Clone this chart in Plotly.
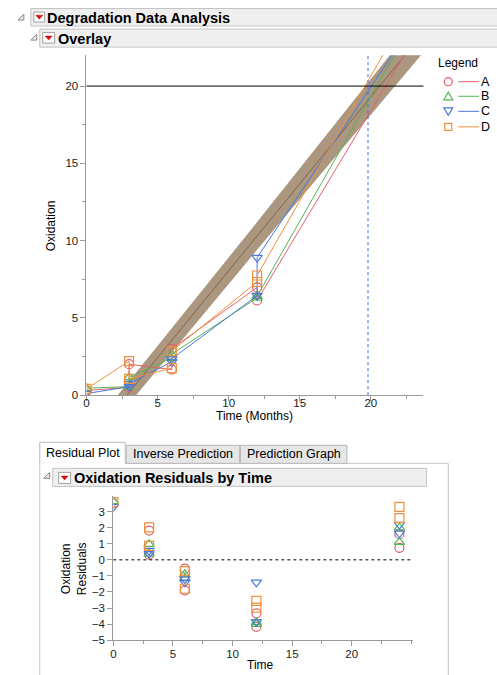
import plotly.graph_objects as go

W, H = 497, 675
# the captured picture comes out about 8px shorter than the page, so vertical
# positions are stretched slightly to land where the reference has them
K = 683 / 675

# ---------------- data ----------------
batches = ["A", "B", "C", "D"]
colors = {"A": "#E2606C", "B": "#55B455", "C": "#4A78E0", "D": "#F0903A"}
symbols = {"A": "circle-open", "B": "triangle-up-open", "C": "triangle-down-open", "D": "square-open"}

time_A = [0, 3, 3, 6, 6, 12, 12, 24, 24]
oxid_A = [0.30, 0.50, 2.00, 1.65, 3.00, 6.97, 6.13, 24.55, 25.40]
time_B = [0, 3, 3, 6, 6, 12, 12, 24, 24]
oxid_B = [0.45, 0.55, 1.15, 2.40, 2.65, 6.30, 6.40, 25.80, 24.90]
time_C = [0, 3, 3, 6, 6, 12, 12, 24, 24]
oxid_C = [0.10, 0.55, 0.75, 2.15, 2.35, 6.44, 8.90, 25.45, 26.00]
time_D = [0, 3, 3, 6, 6, 12, 12, 24, 24]
oxid_D = [0.40, 2.20, 1.05, 1.75, 2.85, 7.32, 7.74, 27.10, 26.40]

times = {"A": time_A, "B": time_B, "C": time_C, "D": time_D}
oxid = {"A": oxid_A, "B": oxid_B, "C": oxid_C, "D": oxid_D}

fit_intercept = -3.2
fit_slope = 1.125
band_time = [0, 3, 12, 21, 26]
band_halfwidth = [0.75, 0.72, 0.9, 1.2, 1.35]
spec_limit = 20
crossing_time = 19.8

x_ticks_top = [0, 5, 10, 15, 20]
y_ticks_top = [0, 5, 10, 15, 20]
x_ticks_res = [0, 5, 10, 15, 20]
y_ticks_res = [-5, -4, -3, -2, -1, 0, 1, 2, 3]

FONT = "Liberation Sans, Arial, sans-serif"


def px(x):
    return x / W


def py(y):
    return 1 - y * K / H


fig = go.Figure()

# confidence band
fitted = [fit_intercept + fit_slope * t for t in band_time]
upper = [f + h for f, h in zip(fitted, band_halfwidth)]
lower = [f - h for f, h in zip(fitted, band_halfwidth)]
fig.add_trace(go.Scatter(x=band_time + band_time[::-1], y=upper + lower[::-1],
                         fill="toself", fillcolor="rgba(150,125,95,0.80)",
                         line=dict(width=0), mode="lines", hoverinfo="skip",
                         xaxis="x", yaxis="y"))
fig.add_trace(go.Scatter(x=band_time, y=fitted, mode="lines",
                         line=dict(color="rgb(128,100,72)", width=1),
                         xaxis="x", yaxis="y"))

# overlay lines + markers
for b in batches:
    fig.add_trace(go.Scatter(x=times[b], y=oxid[b], mode="lines+markers",
                             line=dict(color=colors[b], width=1),
                             marker=dict(symbol=symbols[b], size=9, color=colors[b],
                                         line=dict(width=1.2, color=colors[b])),
                             xaxis="x", yaxis="y", name=b))

# residuals
for b in batches:
    res = [y - (fit_intercept + fit_slope * t) for t, y in zip(times[b], oxid[b])]
    fig.add_trace(go.Scatter(x=times[b], y=res, mode="markers",
                             marker=dict(symbol=symbols[b], size=9, color=colors[b],
                                         line=dict(width=1.2, color=colors[b])),
                             xaxis="x2", yaxis="y2", name=b))

axis_common = dict(showgrid=False, zeroline=False, showline=True, linecolor="#9A9A9A",
                   linewidth=1, ticks="outside", ticklen=5, tickcolor="#9A9A9A",
                   tickfont=dict(family=FONT, size=11.5, color="#222"))
minor = dict(dtick=2.5, ticklen=3, ticks="outside", tickcolor="#9A9A9A")

fig.update_layout(
    width=W, height=H, margin=dict(l=0, r=0, t=0, b=0),
    paper_bgcolor="white", plot_bgcolor="white", showlegend=False,
    xaxis=dict(domain=[px(84), px(423)], range=[0, 23.7], tickvals=x_ticks_top,
               minor=minor, anchor="y", ticklabelstandoff=-8, **axis_common),
    yaxis=dict(domain=[py(394), py(55)], range=[0, 22], tickvals=y_ticks_top,
               minor=minor, anchor="x", **axis_common),
    xaxis2=dict(domain=[px(111), px(412)], range=[0, 25.1], tickvals=x_ticks_res,
                minor=minor, anchor="y2", ticklabelstandoff=-2, **axis_common),
    yaxis2=dict(domain=[py(638.3), py(495)], range=[-5, 3.95], tickvals=y_ticks_res,
                anchor="x2", **axis_common),
)

shapes = []
ann = []

# reference lines
shapes.append(dict(type="line", xref="x domain", yref="y", x0=0, x1=1, y0=spec_limit, y1=spec_limit,
                   line=dict(color="black", width=1)))
shapes.append(dict(type="line", xref="x", yref="y domain", x0=crossing_time, x1=crossing_time, y0=0, y1=1,
                   line=dict(color="#3A6BE8", width=1, dash="dot")))
shapes.append(dict(type="line", xref="x2 domain", yref="y2", x0=0, x1=1, y0=0, y1=0,
                   line=dict(color="black", width=1, dash="dot")))


def rect(x0, y0, x1, y1, fill, line="#C4C4C4", lw=1):
    shapes.append(dict(type="rect", xref="paper", yref="paper", x0=px(x0), x1=px(x1),
                       y0=py(y1), y1=py(y0), fillcolor=fill, line=dict(color=line, width=lw),
                       layer="below"))


def path(pts, fill, line, lw=1):
    d = "M " + " L ".join(f"{px(x):.5f},{py(y):.5f}" for x, y in pts) + " Z"
    shapes.append(dict(type="path", xref="paper", yref="paper", path=d, fillcolor=fill,
                       line=dict(color=line, width=lw)))


def text(x, y, s, size=12, anchor="left", bold=False, angle=0):
    ann.append(dict(xref="paper", yref="paper", x=px(x), y=py(y), text=(f"<b>{s}</b>" if bold else s),
                    showarrow=False, xanchor=anchor, yanchor="middle", textangle=angle,
                    font=dict(family=FONT, size=size, color="black")))


def disclosure(x, y):
    path([(x, y + 6), (x + 6, y + 6), (x + 6, y)], "#E8E8E8", "#8A8A8A", 1)


def red_icon(x0, y0, x1, y1):
    rect(x0, y0, x1, y1, "white", "#A0A0A0", 1)
    cx = (x0 + x1) / 2
    cy = (y0 + y1) / 2
    path([(cx - 3.5, cy - 1.8), (cx + 3.5, cy - 1.8), (cx, cy + 2.2)], "#D01010", "#D01010", 0.5)


# header bars
rect(28, 8.5, 499, 26, "#EFEFEF")
disclosure(15, 14)
red_icon(31, 12, 42, 22)
text(42, 17.5, "Degradation Data Analysis", size=14.5, bold=True)

rect(37, 29, 499, 47, "#EFEFEF")
disclosure(28, 34)
red_icon(40, 32.5, 52, 43)
text(53, 38.5, "Overlay", size=14.5, bold=True)

# tabs and panel
rect(37, 462, 448, 700, "rgba(0,0,0,0)", "#C4C4C4")
rect(124, 444, 238, 462, "#E6E6E6", "#B8B8B8")
rect(239, 444, 346, 462, "#E6E6E6", "#B8B8B8")
rect(37, 441, 123, 462, "white", "#B8B8B8")
shapes.append(dict(type="line", xref="paper", yref="paper", x0=px(37.5), x1=px(122.5), y0=py(462), y1=py(462),
                   line=dict(color="white", width=2)))
text(80, 452, "Residual Plot", size=12.5, anchor="center")
text(181, 453, "Inverse Prediction", size=12.5, anchor="center")
text(292.5, 453, "Prediction Graph", size=12.5, anchor="center")

rect(50, 467, 426, 485, "#EFEFEF")
disclosure(41, 471)
red_icon(56, 471, 68, 482)
text(69, 476.5, "Oxidation Residuals by Time", size=14.5, bold=True)

# axis titles
text(48, 225, "Oxidation", size=12, anchor="center", angle=-90)
text(253, 414.5, "Time (Months)", size=12, anchor="center")
text(71, 567, "Oxidation<br>Residuals", size=12, anchor="center", angle=-90)
text(259, 663.5, "Time", size=12, anchor="center")

# legend
text(436, 63, "Legend", size=12)
rows = {"A": 81.5, "B": 96, "C": 111, "D": 126.5}
for b in batches:
    yy = rows[b]
    c = colors[b]
    if b == "A":
        shapes.append(dict(type="circle", xref="paper", yref="paper", x0=px(444), x1=px(452),
                           y0=py(yy + 4), y1=py(yy - 4), line=dict(color=c, width=1.2)))
    elif b == "B":
        path([(443.5, yy + 3.5), (452.5, yy + 3.5), (448, yy - 4)], "rgba(0,0,0,0)", c, 1.2)
    elif b == "C":
        path([(443.5, yy - 3.5), (452.5, yy - 3.5), (448, yy + 4)], "rgba(0,0,0,0)", c, 1.2)
    else:
        shapes.append(dict(type="rect", xref="paper", yref="paper", x0=px(444.5), x1=px(451.5),
                           y0=py(yy + 3.5), y1=py(yy - 3.5), line=dict(color=c, width=1.2)))
    shapes.append(dict(type="line", xref="paper", yref="paper", x0=px(458), x1=px(479),
                       y0=py(yy), y1=py(yy), line=dict(color=c, width=1)))
    text(479, yy, b, size=12.5)

fig.update_layout(shapes=shapes, annotations=ann)
fig.write_html(
    "out.html",
    config={"displayModeBar": False},
    post_script=(
        "var gd=document.getElementById('{plot_id}');"
        "gd.style.overflow='hidden';"
        "document.body.style.margin='0';"
        "document.body.style.padding='0';"
        "document.body.style.fontSize='0';"
        "document.body.style.lineHeight='0';"
        "document.body.style.height='675px';"
        "document.body.style.overflow='hidden';"
        "document.documentElement.style.overflow='hidden';"
        "document.documentElement.style.height='675px';"
    ),
)
